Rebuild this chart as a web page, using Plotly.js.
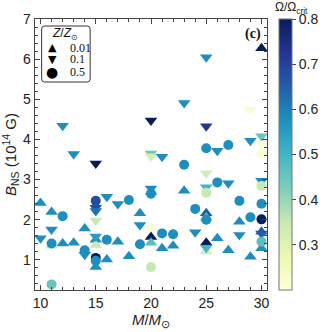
<!DOCTYPE html>
<html>
<head>
<meta charset="utf-8">
<script src="https://cdn.plot.ly/plotly-3.0.1.min.js"></script>
<style>
  html, body { margin: 0; padding: 0; background: #fff; }
  #chart { width: 332px; height: 332px; }
</style>
</head>
<body>
<div id="chart"></div>
<script>
// Z/Zsun = 0.01 (triangle-up)
var massZ001 = [10, 11, 11, 12, 13, 14, 15, 15, 15, 16, 17, 18, 19, 20, 20, 20, 20, 21, 22, 23, 25, 25, 25, 25, 26, 27, 28, 29, 30, 30, 30];
var bnsZ001 = [2.42, 2.19, 1.35, 1.41, 1.43, 1.78, 1.5, 1.37, 0.82, 1.01, 1.45, 1.09, 2.16, 2.7, 1.8, 1.57, 1.43, 1.29, 1.35, 2.72, 2.16, 2.05, 1.43, 1.21, 1.54, 1.24, 1.95, 1.08, 6.27, 1.7, 1.29];
var omegaZ001 = [0.58, 0.58, 0.33, 0.58, 0.58, 0.58, 0.58, 0.35, 0.58, 0.58, 0.58, 0.58, 0.58, 0.58, 0.22, 0.8, 0.47, 0.58, 0.58, 0.58, 0.65, 0.47, 0.8, 0.33, 0.58, 0.58, 0.58, 0.58, 0.8, 0.65, 0.58];

// Z/Zsun = 0.1 (triangle-down)
var massZ01 = [10, 11, 12, 13, 14, 15, 15, 15, 15, 15, 16, 17, 19, 20, 20, 20, 20, 21, 23, 24, 25, 25, 25, 25, 25, 26, 27, 28, 29, 29, 30, 30, 30, 30];
var bnsZ01 = [1.54, 1.76, 4.34, 3.64, 1.13, 3.4, 2.3, 2.22, 1.98, 1.58, 2.57, 2.39, 1.87, 4.47, 3.65, 3.58, 2.78, 3.57, 4.91, 1.69, 6.05, 4.33, 3.16, 2.81, 1.3, 3.72, 2.91, 1.62, 4.74, 3.97, 4.08, 3.89, 2.97, 1.66];
var omegaZ01 = [0.58, 0.58, 0.58, 0.58, 0.58, 0.8, 0.68, 0.62, 0.35, 0.55, 0.58, 0.58, 0.58, 0.8, 0.45, 0.33, 0.58, 0.58, 0.58, 0.58, 0.58, 0.72, 0.33, 0.5, 0.5, 0.58, 0.58, 0.58, 0.22, 0.58, 0.45, 0.22, 0.58, 0.65];

// Z/Zsun = 0.5 (circle)
var massZ05 = [11, 11, 12, 14, 15, 15, 15, 16, 18, 19, 20, 20, 21, 22, 23, 24, 25, 25, 25, 26, 27, 28, 29, 30, 30, 30, 30, 30];
var bnsZ05 = [1.41, 0.39, 2.09, 1.24, 2.47, 1.05, 0.98, 1.5, 2.49, 1.39, 2.65, 0.82, 1.66, 1.64, 3.37, 2.27, 3.78, 2.67, 2.0, 2.93, 3.86, 2.47, 2.06, 3.65, 2.84, 2.4, 2.01, 1.45];
var omegaZ05 = [0.58, 0.45, 0.58, 0.58, 0.68, 0.8, 0.58, 0.58, 0.58, 0.58, 0.58, 0.35, 0.58, 0.58, 0.58, 0.58, 0.58, 0.35, 0.58, 0.58, 0.58, 0.58, 0.58, 0.22, 0.35, 0.58, 0.8, 0.47];

var zLabels = ['0.01', '0.1', '0.5'];
var zSymbols = ['triangle-up', 'triangle-down', 'circle'];
var zGlyphs = ['▲', '▼', '●'];

var YLGNBU = [
    [0.0, '#ffffd9'], [0.125, '#edf8b1'], [0.25, '#c7e9b4'], [0.375, '#7fcdbb'],
    [0.5, '#41b6c4'], [0.625, '#1d91c0'], [0.75, '#225ea8'], [0.875, '#253494'], [1.0, '#081d58']
];
var CMIN = 0.2, CMAX = 0.8;

// plot area in pixels, used to place the hand-made legend
var PL = 35, PW = 244, PB = 290, PH = 271;
function px2x(p) { return (p - PL) / PW; }
function px2y(p) { return (PB - p) / PH; }

function scatterTrace(x, y, c, symbol, size, showScale) {
    var marker = {
        symbol: symbol,
        size: size,
        color: c,
        colorscale: YLGNBU,
        cmin: CMIN,
        cmax: CMAX,
        line: { width: 0 },
        opacity: 1
    };
    if (showScale) {
        marker.showscale = true;
        marker.colorbar = {
            x: 1.053, xanchor: 'left', xpad: 0,
            y: 0, yanchor: 'bottom', ypad: 0,
            len: 1, lenmode: 'fraction',
            thickness: 13,
            outlinewidth: 1, outlinecolor: '#777',
            tickvals: [0.3, 0.4, 0.5, 0.6, 0.7, 0.8],
            ticks: 'outside', ticklen: 4, tickcolor: '#444',
            tickfont: { family: 'Liberation Sans, Arial, sans-serif', size: 14, color: '#222' }
        };
    }
    return { x: x, y: y, type: 'scatter', mode: 'markers', marker: marker, showlegend: false, hoverinfo: 'x+y' };
}

var data = [
    scatterTrace(massZ001, bnsZ001, omegaZ001, zSymbols[0], 11, true),
    scatterTrace(massZ01, bnsZ01, omegaZ01, zSymbols[1], 11, false),
    scatterTrace(massZ05, bnsZ05, omegaZ05, zSymbols[2], 10, false)
];

var sans = 'Liberation Sans, Arial, sans-serif';
var serif = 'Liberation Serif, Times New Roman, serif';
var axisFont = { family: sans, size: 14, color: '#222' };

// legend box with rounded corners, in paper coords
function roundedBox(x0, y0, x1, y1, r) {
    var rx = r / PW, ry = r / PH;
    var a = px2x(x0), b = px2x(x1), top = px2y(y0), bot = px2y(y1);
    return 'M ' + (a + rx) + ',' + top + ' L ' + (b - rx) + ',' + top +
        ' Q ' + b + ',' + top + ' ' + b + ',' + (top - ry) +
        ' L ' + b + ',' + (bot + ry) + ' Q ' + b + ',' + bot + ' ' + (b - rx) + ',' + bot +
        ' L ' + (a + rx) + ',' + bot + ' Q ' + a + ',' + bot + ' ' + a + ',' + (bot + ry) +
        ' L ' + a + ',' + (top - ry) + ' Q ' + a + ',' + top + ' ' + (a + rx) + ',' + top + ' Z';
}

var annotations = [
    {
        text: '<b>(c)</b>', xref: 'paper', yref: 'paper', x: 0.94, y: 0.945,
        xanchor: 'center', yanchor: 'middle', showarrow: false,
        font: { family: serif, size: 14, color: '#111' }
    },
    {
        text: 'Ω/Ω<sub>crit</sub>', xref: 'paper', yref: 'paper', x: 1.107, y: 1.042,
        xanchor: 'center', yanchor: 'middle', showarrow: false,
        font: { family: sans, size: 12, color: '#222' }
    },
    {
        text: '<i>Z</i>/<i>Z</i><sub>⊙</sub>', xref: 'paper', yref: 'paper', x: px2x(67), y: px2y(34),
        xanchor: 'center', yanchor: 'middle', showarrow: false,
        font: { family: sans, size: 12, color: '#111' }
    }
];
var legendRows = [47.5, 59.5, 72];
zLabels.forEach(function (lab, i) {
    annotations.push({
        text: zGlyphs[i], xref: 'paper', yref: 'paper', x: px2x(53), y: px2y(legendRows[i]),
        xanchor: 'center', yanchor: 'middle', showarrow: false,
        font: { family: 'DejaVu Sans, sans-serif', size: i === 2 ? 14 : 11, color: '#000' }
    });
    annotations.push({
        text: lab, xref: 'paper', yref: 'paper', x: px2x(70), y: px2y(legendRows[i]),
        xanchor: 'left', yanchor: 'middle', showarrow: false,
        font: { family: serif, size: 12, color: '#111' }
    });
});

var layout = {
    width: 332,
    height: 332,
    margin: { l: PL, r: 332 - PL - PW, t: PB - PH, b: 332 - PB },
    paper_bgcolor: '#fff',
    plot_bgcolor: '#fff',
    showlegend: false,
    xaxis: {
        range: [9.5, 30.5],
        tickvals: [10, 15, 20, 25, 30],
        ticks: 'inside', ticklen: 5, tickcolor: '#444',
        minor: { ticks: 'inside', dtick: 1, ticklen: 3, tickcolor: '#444' },
        showline: true, linecolor: '#444', linewidth: 1.3, mirror: 'ticks',
        showgrid: false, zeroline: false,
        tickfont: axisFont,
        title: { text: '<i>M</i>/<i>M</i><sub>⊙</sub>', font: { family: sans, size: 15, color: '#222' }, standoff: 2 }
    },
    yaxis: {
        range: [0.25, 7],
        tickvals: [1, 2, 3, 4, 5, 6, 7],
        ticks: 'inside', ticklen: 5, tickcolor: '#444',
        minor: { ticks: 'inside', dtick: 0.2, ticklen: 3, tickcolor: '#444' },
        showline: true, linecolor: '#444', linewidth: 1.3, mirror: 'ticks',
        showgrid: false, zeroline: false,
        tickfont: axisFont,
        title: { text: '<i>B</i><sub>NS</sub> (10<sup>14</sup> G)', font: { family: sans, size: 15, color: '#222' }, standoff: 4 }
    },
    shapes: [{
        type: 'path', xref: 'paper', yref: 'paper',
        path: roundedBox(42, 26, 93, 82, 3),
        line: { color: '#333', width: 1 }, fillcolor: 'rgba(255,255,255,0.85)', layer: 'above'
    }],
    annotations: annotations
};

Plotly.newPlot('chart', data, layout, { displayModeBar: false, staticPlot: true });
</script>
</body>
</html>
